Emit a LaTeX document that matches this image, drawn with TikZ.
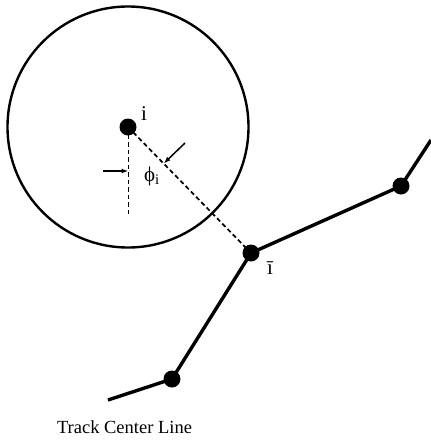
\documentclass[tikz,border=0pt]{standalone}
\usepackage{fontspec}
\setmainfont{Liberation Serif}
\usetikzlibrary{arrows.meta,calc}

\begin{document}
\begin{tikzpicture}[x=1pt,y=-1pt,>={Latex[length=7pt,width=5pt]}]
\tikzstyle{pt}=[circle,fill=black,inner sep=0pt,minimum size=17pt]
\tikzstyle{lbl}=[font=\fontsize{21}{23}\selectfont,inner sep=0pt]
\tikzstyle{track}=[line width=3.4pt,line join=round]
\tikzstyle{guide}=[line width=1.7pt,dash pattern=on 4.5pt off 3pt]
\useasboundingbox (0,0) rectangle (431,440);
% region round point i
\node[pt] (i) at (128,127) {};
\draw[line width=2.4pt] (i.center) circle (120.5pt);
% track points
\node[pt] (ibar) at (251,253) {};
\node[pt] (p1) at (401,186) {};
\node[pt] (p2) at (172,379) {};
\coordinate (endL) at (108,400);
\coordinate (endR) at (431,140);
\draw[track] (endL) -- (p2.center) -- (ibar.center) -- (p1.center) -- (endR);
% guides
\coordinate (vbot) at (128.5,217);
\draw[guide] (i.center) -- (ibar.center);
\draw[guide] (i.center -| vbot) -- (vbot);
\coordinate (a1) at (103,171);
\coordinate (t2) at ($(i.center)!0.29!(ibar.center)$);
\coordinate (a2) at (185,143);
\draw[->,line width=1.5pt] (a1) -- (a1 -| vbot);
\draw[->,line width=1.5pt] (a2) -- (t2);
% labels
\node[lbl] (li) at (144,114) {i};
\node[lbl] (lphi) at (152,176) {ϕ\textsubscript{i}};
\node[lbl] (libar) at (270,268) {ī};
\node[lbl,font=\fontsize{18.5}{20}\selectfont,anchor=base] (title) at (124.5,433) {Track Center Line};
\end{tikzpicture}
\end{document}
